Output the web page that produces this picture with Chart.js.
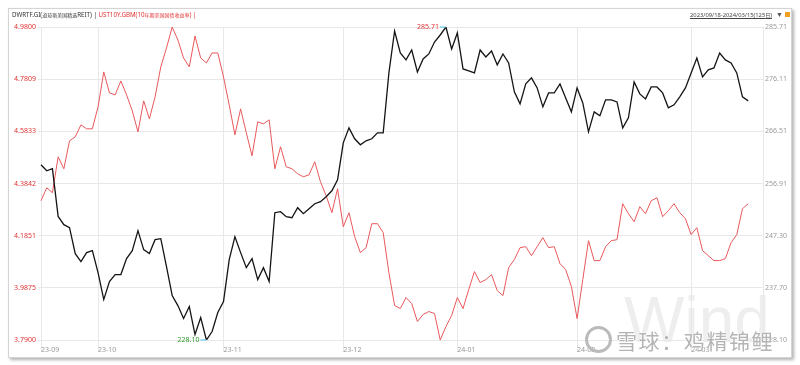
<!DOCTYPE html>
<html>
<head>
<meta charset="utf-8">
<script src="https://cdn.jsdelivr.net/npm/chart.js@4/dist/chart.umd.min.js"></script>
<style>
    body { margin: 0; background: #fff; font-family: "Noto Sans CJK SC", "Noto Sans", sans-serif; }
    #frame { position: absolute; left: 8px; top: 8px; width: 782px; height: 348px; border: 1px solid #d4d4d4; box-shadow: 2px 2px 3px rgba(0,0,0,0.3); background: #fff; }
    #wind { position: absolute; left: 624px; top: 288px; font: 64px "Liberation Sans", sans-serif; line-height: 64px; color: #eeeeee; }
    #chart { position: absolute; left: 0; top: 0; }
    .head { position: absolute; top: 10px; font-size: 6.2px; line-height: 10px; white-space: nowrap; font-family: "Noto Sans", sans-serif; }
    .head .cj { font-family: "Noto Sans CJK SC", sans-serif; font-size: 5px; }
    #title { left: 12px; color: #333; }
    #title .red { color: #e03333; }
    #range { right: 28px; color: #444; text-decoration: underline; font-size: 5.8px; }
    #arrow { right: 17px; color: #555; font-size: 7px; }
    #lock { position: absolute; left: 785px; top: 12px; width: 5px; height: 5px; background: #f0a020; }
    #xq { position: absolute; left: 585px; top: 326px; font-size: 21px; line-height: 24px; color: #b4b4b4; white-space: nowrap; text-shadow: 0 0 2px #fff, 0 0 2px #fff; letter-spacing: 1.6px; }
    #xq .logo { display: inline-block; width: 21px; height: 21px; border: 3px solid #bbb; border-radius: 50%; vertical-align: -4px; margin-right: 4px; }
</style>
</head>
<body>
<div id="frame"></div>
<div id="wind">Wind</div>
<canvas id="chart" width="800" height="365"></canvas>
<div class="head" id="title">DWRTF.GI(<span class="cj">道琼斯美国精选</span>REIT) | <span class="red">UST10Y.GBM(10<span class="cj">年期美国国债收益率</span>) |</span></div>
<div class="head" id="range">2023/09/18-2024/03/15(125<span class="cj">日</span>)</div>
<div class="head" id="arrow">▼</div>
<div id="lock"></div>
<div id="xq"><span class="logo"></span>雪球：鸡精锦鲤</div>
<script>
// 月份刻度 (交易日序号)
const monthIdx = [0, 10, 32, 53, 73, 94, 114];
const monthLabels = ['23-09', '23-10', '23-11', '23-12', '24-01', '24-02', '24-03'];

// 坐标轴刻度文字 (从下到上)
const leftTicks = ['3.7900', '3.9875', '4.1851', '4.3842', '4.5833', '4.7809', '4.9800'];
const rightTicks = ['228.10', '237.70', '247.30', '256.91', '266.51', '276.11', '285.71'];

// DWRTF.GI 道琼斯美国精选REIT (右轴)
const dwrtf = [
    260.35, 259.25, 259.62, 250.85, 249.33, 248.77, 244.00, 242.53, 244.18, 244.55,
    240.50, 235.54, 238.85, 240.14, 240.14, 243.08, 244.55, 248.22, 244.73, 244.00,
    246.57, 246.75, 241.61, 236.28, 234.44, 232.05, 234.26, 229.11, 232.24, 228.10,
    229.66, 233.15, 235.18, 242.89, 247.12, 244.18, 241.42, 243.08, 239.22, 241.42,
    238.85, 251.53, 251.71,
    250.80, 250.61, 252.45, 251.35, 252.27, 253.18, 253.55, 254.47, 255.57, 257.59,
    264.39, 267.15, 265.13, 264.03, 264.76, 265.13, 266.23, 266.23, 277.26, 284.97,
    280.93, 279.65, 281.48, 277.44, 279.83, 280.75, 282.95, 284.24, 285.71, 281.67,
    284.61, 277.99, 277.62, 277.26, 281.48, 280.20, 281.30, 278.73, 280.75, 279.09,
    273.77, 271.56,
    275.24, 276.34, 274.50, 271.01, 273.58, 273.58, 275.24, 272.66, 270.09, 274.50,
    271.74, 266.42, 270.09, 269.36, 272.30, 272.30, 271.93, 267.15, 268.99, 275.60,
    273.40, 272.48, 274.68, 274.68, 273.58, 270.83, 271.38, 272.85, 274.50, 277.26,
    280.01, 276.52, 277.81, 278.18, 280.93, 279.65, 279.09, 277.26, 272.85, 272.11
];

// UST10Y.GBM 10年期美国国债收益率 (左轴)
const ust10y = [
    4.3195, 4.3689, 4.3499, 4.4865, 4.4410, 4.5473, 4.5624, 4.6080, 4.5928, 4.5928,
    4.6763, 4.8092, 4.7295, 4.7219, 4.7750, 4.7219, 4.6611, 4.5814, 4.6991, 4.6308,
    4.7143, 4.8282, 4.9003, 4.9800, 4.9307, 4.8623, 4.8282, 4.9458, 4.8623, 4.8433,
    4.8813, 4.8813, 4.7902, 4.6839, 4.5700, 4.6687, 4.5776, 4.4903, 4.6194, 4.6118,
    4.6270, 4.4410, 4.5245,
    4.4486, 4.4410, 4.4220, 4.4106, 4.4182, 4.4676, 4.3916, 4.3385, 4.2740, 4.3651,
    4.2208, 4.2740, 4.1829, 4.1221, 4.1411, 4.2322, 4.2322, 4.1980, 4.0462, 3.9209,
    3.9096, 3.9513, 3.9285, 3.8602, 3.8868, 3.8982, 3.8906, 3.7900, 3.8412, 3.8830,
    3.9513, 3.9096, 3.9817, 4.0500, 4.0082, 4.0196, 4.0386, 3.9779, 3.9589, 4.0652,
    4.0956, 4.1411,
    4.1449, 4.1107, 4.1449, 4.1791, 4.1411, 4.1449, 4.0804, 4.0576, 3.9931, 3.8716,
    4.0196, 4.1677, 4.0918, 4.0918, 4.1449, 4.1677, 4.1715, 4.3081, 4.2702, 4.2398,
    4.2967, 4.2702, 4.3195, 4.3309, 4.2588, 4.2816, 4.3081, 4.2740, 4.2512, 4.1905,
    4.2170, 4.1297, 4.1107, 4.0918, 4.0918, 4.0994, 4.1601, 4.1905, 4.2891, 4.3081
];

const tickFont = { family: '"Noto Sans", sans-serif', size: 7 };

// 最高/最低价标注
const markPlugin = {
    id: 'marks',
    afterDatasetsDraw(chart) {
        const { ctx, scales } = chart;
        const draw = (i, v, color) => {
            const px = scales.x.getPixelForValue(i);
            const py = scales.y1.getPixelForValue(v);
            ctx.save();
            ctx.strokeStyle = '#4cc3ea';
            ctx.lineWidth = 1;
            ctx.beginPath();
            ctx.moveTo(px - 6, py);
            ctx.lineTo(px, py);
            ctx.stroke();
            ctx.fillStyle = color;
            ctx.font = '7px "Noto Sans", sans-serif';
            ctx.textAlign = 'right';
            ctx.textBaseline = 'middle';
            ctx.fillText(v.toFixed(2), px - 7, py);
            ctx.restore();
        };
        const hi = Math.max(...dwrtf);
        const lo = Math.min(...dwrtf);
        draw(dwrtf.indexOf(hi), hi, '#e03333');
        draw(dwrtf.indexOf(lo), lo, '#2e9a2e');
    }
};

document.addEventListener('DOMContentLoaded', () => {
    const ctx = document.getElementById('chart').getContext('2d');
    new Chart(ctx, {
        type: 'line',
        data: {
            datasets: [
                { label: 'DWRTF.GI', data: dwrtf.map((v, i) => ({ x: i, y: v })), yAxisID: 'y1', borderColor: '#141414', borderWidth: 1.3 },
                { label: 'UST10Y.GBM', data: ust10y.map((v, i) => ({ x: i, y: v })), yAxisID: 'y', borderColor: '#e8585b', borderWidth: 1 }
            ]
        },
        options: {
            responsive: false,
            animation: false,
            elements: { point: { radius: 0 }, line: { tension: 0 } },
            layout: { padding: { top: 27, left: 0, right: 0, bottom: 0 } },
            plugins: { legend: { display: false }, tooltip: { enabled: false } },
            scales: {
                x: {
                    type: 'linear',
                    min: -0.53,
                    max: 126.6,
                    afterBuildTicks: axis => { axis.ticks = monthIdx.map(v => ({ value: v })); },
                    afterFit: axis => { axis.height = 25; },
                    grid: { color: '#e8e8e8', tickLength: 12 },
                    border: { display: false },
                    ticks: {
                        align: 'start',
                        padding: -6,
                        color: '#999',
                        font: tickFont,
                        maxRotation: 0,
                        autoSkip: false,
                        callback: value => monthLabels[monthIdx.indexOf(value)]
                    }
                },
                y: {
                    position: 'left',
                    min: 3.79,
                    max: 4.98,
                    afterBuildTicks: axis => { axis.ticks = leftTicks.map((t, i) => ({ value: 3.79 + i * (4.98 - 3.79) / 6 })); },
                    afterFit: axis => { axis.width = 38; },
                    grid: { color: '#e8e8e8', drawTicks: false },
                    border: { display: false },
                    ticks: { padding: 2, color: '#e03333', font: tickFont, callback: (v, i) => leftTicks[i] }
                },
                y1: {
                    position: 'right',
                    min: 228.10,
                    max: 285.71,
                    afterBuildTicks: axis => { axis.ticks = rightTicks.map((t, i) => ({ value: 228.10 + i * (285.71 - 228.10) / 6 })); },
                    afterFit: axis => { axis.width = 37; },
                    grid: { display: false, drawTicks: false },
                    border: { display: true, color: '#e8e8e8' },
                    ticks: { padding: 2, color: '#9a9a9a', font: tickFont, callback: (v, i) => rightTicks[i] }
                }
            }
        },
        plugins: [markPlugin]
    });
});
</script>
</body>
</html>
